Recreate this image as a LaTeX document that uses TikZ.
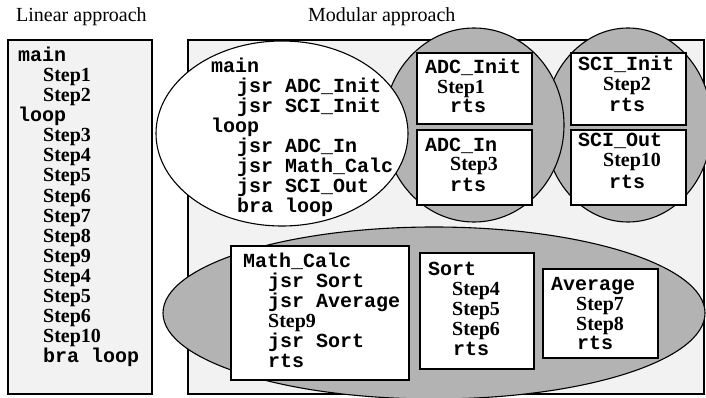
\documentclass[tikz,border=0pt]{standalone}
\usepackage{fontspec}
\setmainfont{Liberation Serif}
\newfontfamily\codefont{Liberation Mono}
\definecolor{panelgray}{HTML}{F2F2F2}
\definecolor{blobgray}{HTML}{B3B3B3}
\tikzset{
  panel/.style={draw, line width=1.6pt, fill=panelgray},
  modbox/.style={draw, line width=1.8pt, fill=white},
  blob/.style={draw, line width=1.1pt, fill=blobgray},
  codeline/.style={anchor=base west, inner sep=0pt, font=\codefont\bfseries\fontsize{20}{20}\selectfont},
  stepline/.style={anchor=base west, inner sep=0pt, font=\bfseries\fontsize{20}{20}\selectfont},
  caption/.style={anchor=base west, inner sep=0pt, font=\fontsize{20}{20}\selectfont},
}
\begin{document}
\begin{tikzpicture}[x=1pt, y=-1pt]
\useasboundingbox (0,0) rectangle (706,398);
% frames
\draw[panel] (8,40) rectangle (152,394);
\draw[panel] (188,40) rectangle (704,394);
\node[caption] (lintitle) at (16,22) {Linear approach};
\node[caption] (modtitle) at (308,22) {Modular approach};
% module groups
\draw[blob] (628,125) ellipse [x radius=84pt, y radius=97pt];
\draw[blob] (474,125) ellipse [x radius=90pt, y radius=97pt];
\draw[line width=1.1pt, fill=white] (282,133.5) ellipse [x radius=126pt, y radius=92.5pt];
\draw[blob] (434,313) ellipse [x radius=271pt, y radius=86pt];
\draw[modbox] (417,53) rectangle (532,124);
\draw[modbox] (417,130) rectangle (532,205);
\draw[modbox] (571,53) rectangle (686,125);
\draw[modbox] (571,130) rectangle (686,205);
\draw[modbox] (231,246) rectangle (409,380);
\draw[modbox] (420,253) rectangle (534,369);
\draw[modbox] (543,269) rectangle (658,358);
% linear listing
\node[codeline] (lmain) at (18,62) {main};
\node[stepline] (ls1) at (43,82) {Step1};
\node[stepline] (ls2) at (43,102) {Step2};
\node[codeline] (lloop) at (18,122) {loop};
\node[stepline] (ls3) at (43,142) {Step3};
\node[stepline] (ls4) at (43,162) {Step4};
\node[stepline] (ls5) at (43,182) {Step5};
\node[stepline] (ls6) at (43,202) {Step6};
\node[stepline] (ls7) at (43,222) {Step7};
\node[stepline] (ls8) at (43,242) {Step8};
\node[stepline] (ls9) at (43,262) {Step9};
\node[stepline] (ls4b) at (43,282) {Step4};
\node[stepline] (ls5b) at (43,302) {Step5};
\node[stepline] (ls6b) at (43,322) {Step6};
\node[stepline] (ls10) at (43,342) {Step10};
\node[codeline] (lbra) at (43,362) {bra loop};
% main module
\node[codeline] (mmain) at (211,72.5) {main};
\node[codeline] (mj1) at (237,92.5) {jsr ADC\_Init};
\node[codeline] (mj2) at (237,112.5) {jsr SCI\_Init};
\node[codeline] (mloop) at (211,132.5) {loop};
\node[codeline] (mj3) at (237,152.5) {jsr ADC\_In};
\node[codeline] (mj4) at (237,172.5) {jsr Math\_Calc};
\node[codeline] (mj5) at (237,192.5) {jsr SCI\_Out};
\node[codeline] (mbra) at (237,212.5) {bra loop};
% ADC
\node[codeline] (ai) at (425,74) {ADC\_Init};
\node[stepline] (ai1) at (437,94) {Step1};
\node[codeline] (ai2) at (450,113) {rts};
\node[codeline] (an) at (425,152) {ADC\_In};
\node[stepline] (an1) at (450,171) {Step3};
\node[codeline] (an2) at (450,191) {rts};
% SCI
\node[codeline] (si) at (578,71) {SCI\_Init};
\node[stepline] (si1) at (603,91) {Step2};
\node[codeline] (si2) at (609,112) {rts};
\node[codeline] (sc) at (578,147) {SCI\_Out};
\node[stepline] (sc1) at (603,167) {Step10};
\node[codeline] (sc2) at (609,188) {rts};
% Math
\node[codeline] (mc) at (243,267) {Math\_Calc};
\node[codeline] (mc1) at (268,287) {jsr Sort};
\node[codeline] (mc2) at (268,307) {jsr Average};
\node[stepline] (mc3) at (268,327) {Step9};
\node[codeline] (mc4) at (268,347) {jsr Sort};
\node[codeline] (mc5) at (268,367) {rts};
\node[codeline] (so) at (428,275) {Sort};
\node[stepline] (so4) at (452,295) {Step4};
\node[stepline] (so5) at (452,315) {Step5};
\node[stepline] (so6) at (452,335) {Step6};
\node[codeline] (sor) at (453,355) {rts};
\node[codeline] (av) at (551,290) {Average};
\node[stepline] (av7) at (576,310) {Step7};
\node[stepline] (av8) at (576,330) {Step8};
\node[codeline] (avr) at (577,349) {rts};
\end{tikzpicture}
\end{document}
